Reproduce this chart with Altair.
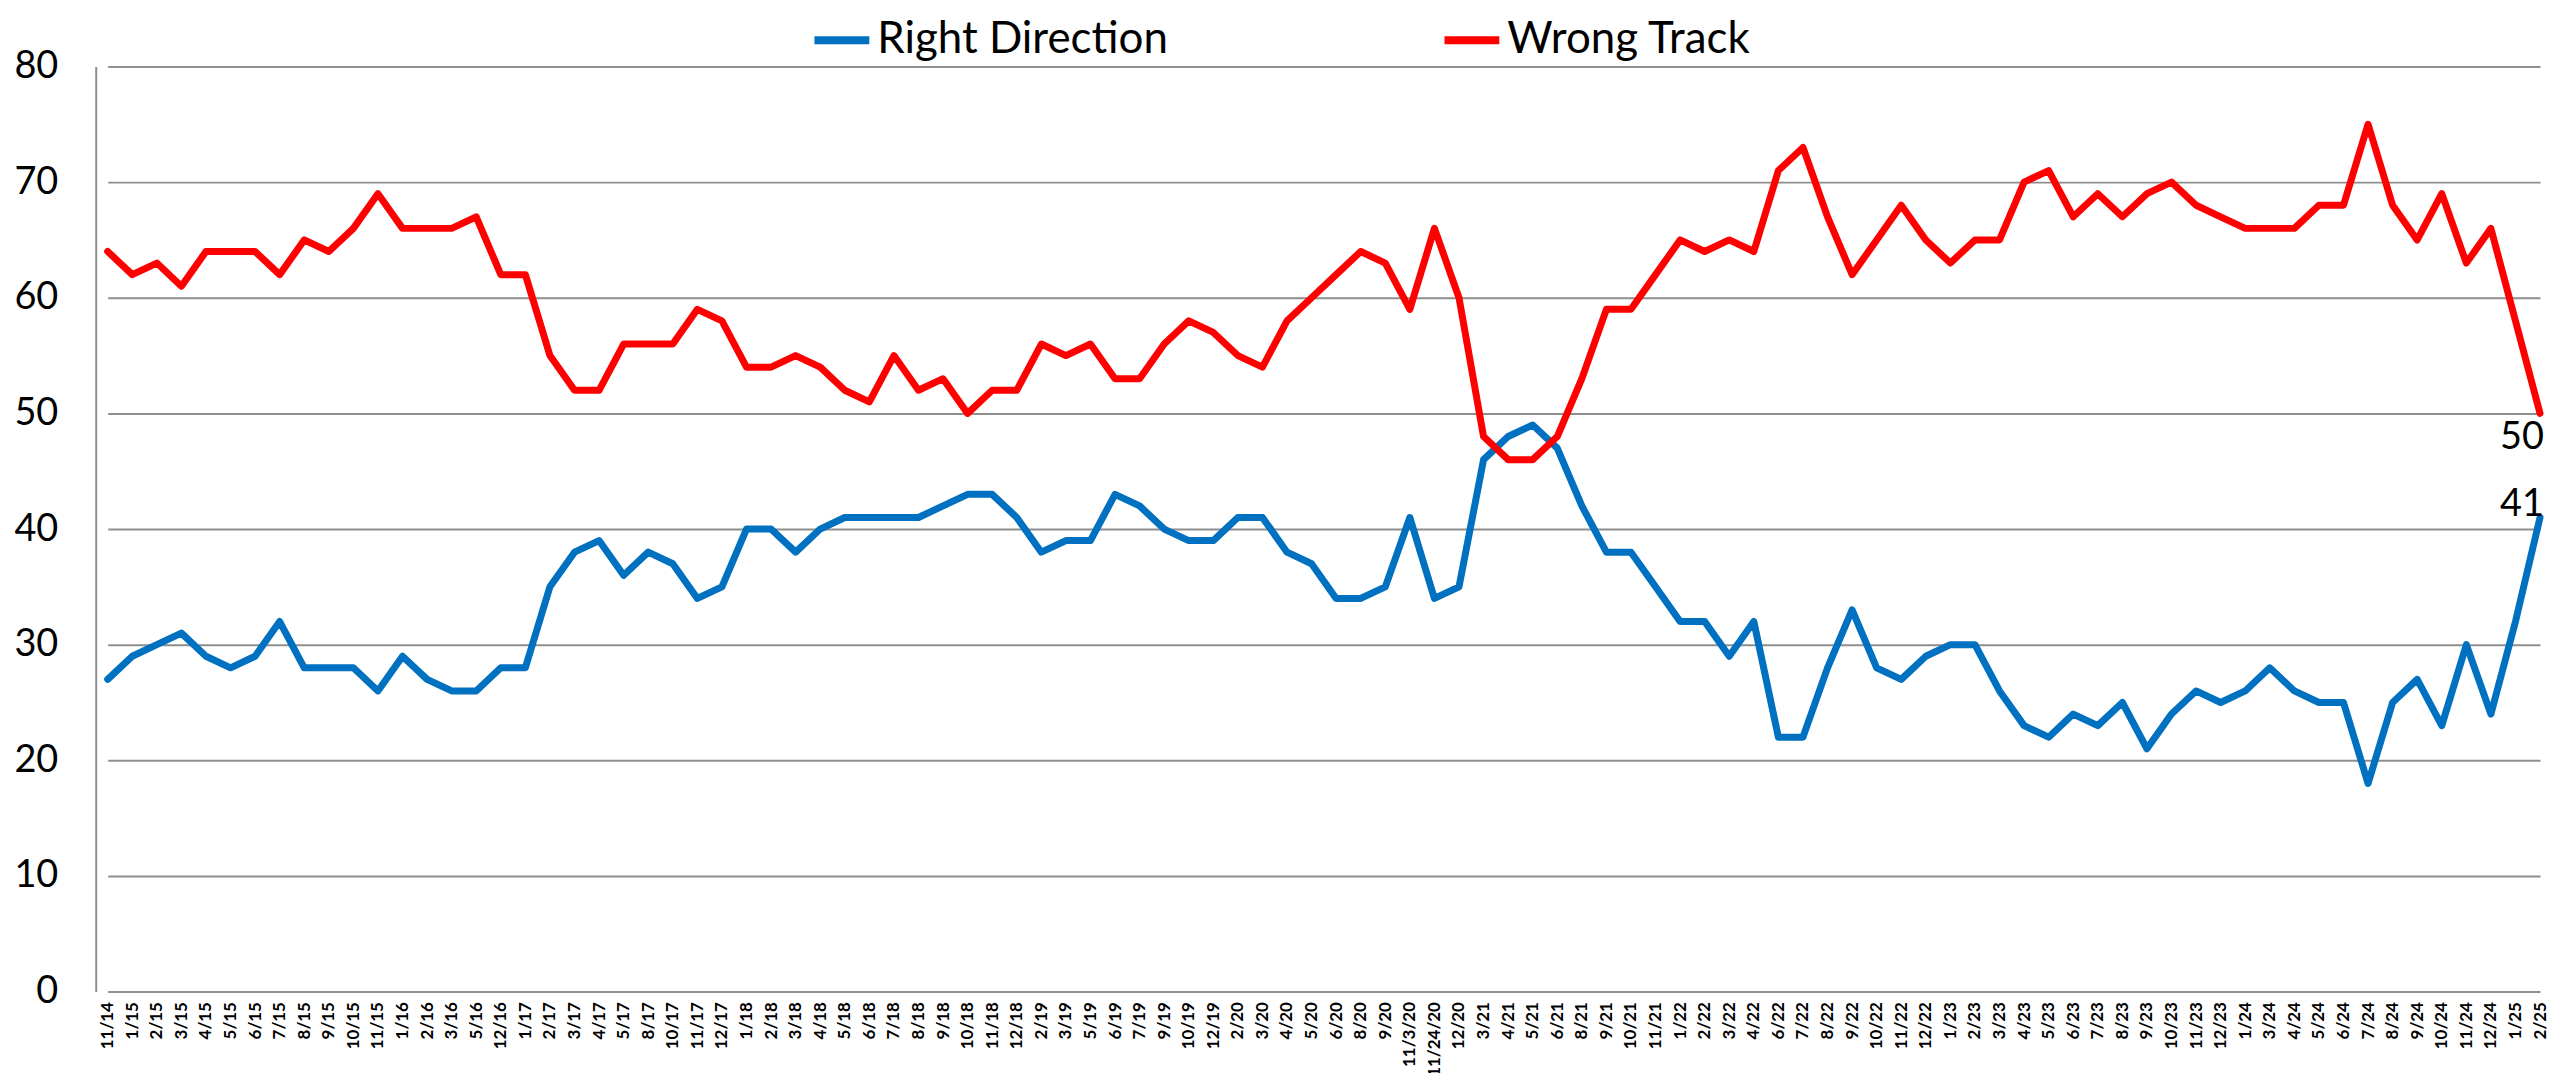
import altair as alt
import pandas as pd

dates = ["11/14", "1/15", "2/15", "3/15", "4/15", "5/15", "6/15", "7/15", "8/15", "9/15",
         "10/15", "11/15", "1/16", "2/16", "3/16", "5/16", "12/16", "1/17", "2/17", "3/17",
         "4/17", "5/17", "8/17", "10/17", "11/17", "12/17", "1/18", "2/18", "3/18", "4/18",
         "5/18", "6/18", "7/18", "8/18", "9/18", "10/18", "11/18", "12/18", "2/19", "3/19",
         "5/19", "6/19", "7/19", "9/19", "10/19", "12/19", "2/20", "3/20", "4/20", "5/20",
         "6/20", "8/20", "9/20", "11/3/20", "11/24/20", "12/20", "3/21", "4/21", "5/21", "6/21",
         "8/21", "9/21", "10/21", "11/21", "1/22", "2/22", "3/22", "4/22", "6/22", "7/22",
         "8/22", "9/22", "10/22", "11/22", "12/22", "1/23", "2/23", "3/23", "4/23", "5/23",
         "6/23", "7/23", "8/23", "9/23", "10/23", "11/23", "12/23", "1/24", "3/24", "4/24",
         "5/24", "6/24", "7/24", "8/24", "9/24", "10/24", "11/24", "12/24", "1/25", "2/25"]

right_direction = [27, 29, 30, 31, 29, 28, 29, 32, 28, 28,
                   28, 26, 29, 27, 26, 26, 28, 28, 35, 38,
                   39, 36, 38, 37, 34, 35, 40, 40, 38, 40,
                   41, 41, 41, 41, 42, 43, 43, 41, 38, 39,
                   39, 43, 42, 40, 39, 39, 41, 41, 38, 37,
                   34, 34, 35, 41, 34, 35, 46, 48, 49, 47,
                   42, 38, 38, 35, 32, 32, 29, 32, 22, 22,
                   28, 33, 28, 27, 29, 30, 30, 26, 23, 22,
                   24, 23, 25, 21, 24, 26, 25, 26, 28, 26,
                   25, 25, 18, 25, 27, 23, 30, 24, 32, 41]

wrong_track = [64, 62, 63, 61, 64, 64, 64, 62, 65, 64,
               66, 69, 66, 66, 66, 67, 62, 62, 55, 52,
               52, 56, 56, 56, 59, 58, 54, 54, 55, 54,
               52, 51, 55, 52, 53, 50, 52, 52, 56, 55,
               56, 53, 53, 56, 58, 57, 55, 54, 58, 60,
               62, 64, 63, 59, 66, 60, 48, 46, 46, 48,
               53, 59, 59, 62, 65, 64, 65, 64, 71, 73,
               67, 62, 65, 68, 65, 63, 65, 65, 70, 71,
               67, 69, 67, 69, 70, 68, 67, 66, 66, 66,
               68, 68, 75, 68, 65, 69, 63, 66, 58, 50]

series_names = ["Right Direction", "Wrong Track"]
series_colors = ["#0070C0", "#FF0000"]

rows = []
for d, r, w in zip(dates, right_direction, wrong_track):
    rows.append({"date": d, "series": series_names[0], "value": r})
    rows.append({"date": d, "series": series_names[1], "value": w})
df = pd.DataFrame(rows)

FONT = "Lato"

x_enc = alt.X(
    "date:N",
    sort=dates,
    scale=alt.Scale(range=[12, 2452], padding=0),
    axis=alt.Axis(
        title=None,
        labelAngle=270,
        labelFontSize=17,
        labelFontWeight="bold",
        labelFont=FONT,
        labelColor="black",
        labelPadding=10,
        ticks=False,
        domain=False,
        grid=False,
        labelOverlap=False,
        labelBound=False,
    ),
)

y_enc = alt.Y(
    "value:Q",
    scale=alt.Scale(domain=[0, 80], nice=False),
    axis=alt.Axis(
        title=None,
        values=[0, 10, 20, 30, 40, 50, 60, 70, 80],
        labelFontSize=38,
        labelFont=FONT,
        labelColor="black",
        labelPadding=38,
        ticks=False,
        domain=True,
        domainColor="#8E8E8E",
        domainWidth=2,
        grid=True,
        gridColor="#8E8E8E",
        gridWidth=2,
    ),
)

color_enc = alt.Color(
    "series:N",
    scale=alt.Scale(domain=series_names, range=series_colors),
    legend=alt.Legend(
        title=None,
        orient="none",
        direction="horizontal",
        legendX=717,
        legendY=-58,
        symbolType="stroke",
        symbolSize=3025,
        symbolStrokeWidth=8,
        labelFontSize=44,
        labelFont=FONT,
        labelColor="black",
        labelOffset=4,
        labelLimit=0,
        columnPadding=261,
    ),
)

lines = alt.Chart(df).mark_line(strokeWidth=7, strokeJoin="round", strokeCap="round").encode(
    x=x_enc, y=y_enc, color=color_enc
)

last = df[df["date"] == dates[-1]]

label_wrong = alt.Chart(last[last["series"] == series_names[1]]).mark_text(
    align="right", baseline="top", dy=6, dx=4, fontSize=38, font=FONT, color="black"
).encode(x=alt.X("date:N", sort=dates), y="value:Q", text="value:Q")

label_right = alt.Chart(last[last["series"] == series_names[0]]).mark_text(
    align="right", baseline="alphabetic", dy=-1, dx=4, fontSize=38, font=FONT, color="black"
).encode(x=alt.X("date:N", sort=dates), y="value:Q", text="value:Q")

chart = alt.layer(lines, label_wrong, label_right).properties(
    width=2456,
    height=928,
    autosize=alt.AutoSizeParams(type="none"),
    padding={"left": 88, "top": 57, "right": 8, "bottom": 80},
).configure_view(stroke=None)

chart.save("out.html", embed_options={"renderer": "svg", "actions": False})
